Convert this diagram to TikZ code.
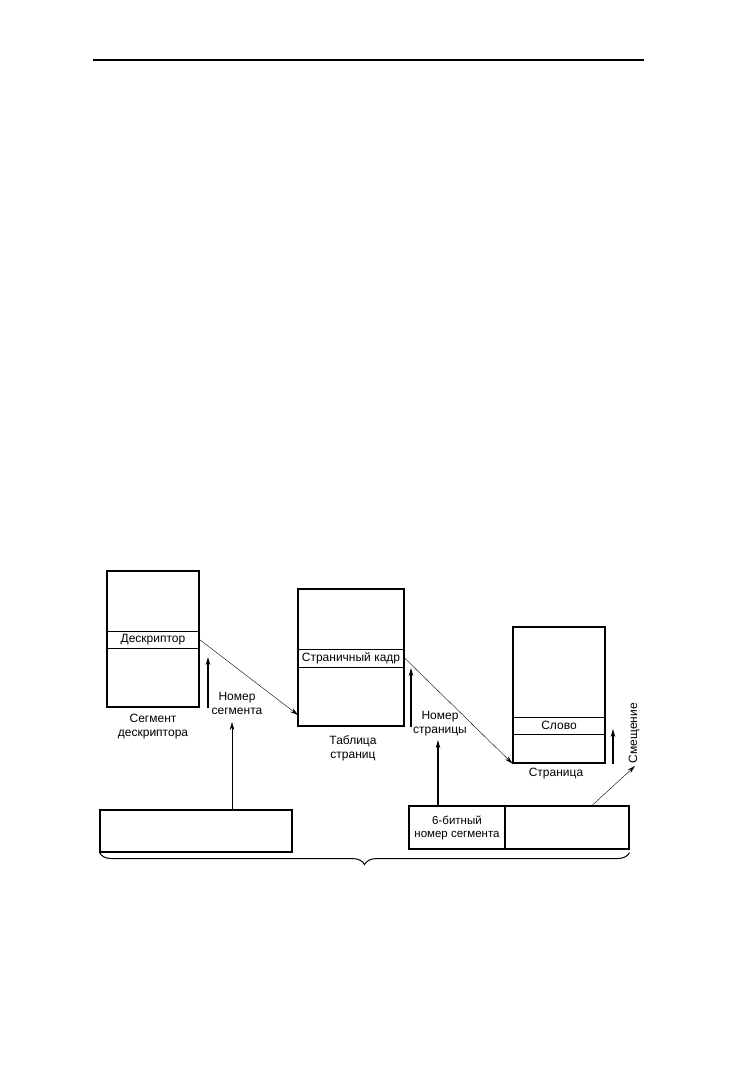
\documentclass[tikz,border=0pt]{standalone}
\usepackage{fontspec}
\setmainfont{Liberation Sans}
\usetikzlibrary{arrows.meta,decorations.pathreplacing}

\begin{document}
\begin{tikzpicture}[x=1pt,y=-1pt,
  box/.style={draw,line width=1.1pt,inner sep=0pt},
  row/.style={draw,line width=1pt,inner sep=0pt,font=\fontsize{12}{14}\selectfont},
  lbl/.style={align=center,inner sep=0pt,font=\fontsize{12}{14}\selectfont},
  tip/.style={-{Stealth[length=8pt,width=4.5pt]}}]
\useasboundingbox (0,0) rectangle (752,1065);
\draw[line width=1.4pt] (93,60) -- (644,60);

% tables
\node[box,minimum width=92pt,minimum height=136pt] (segtab) at (153,639) {};
\node[row,minimum width=92pt,minimum height=17pt] (desc) at (153,639.5) {Дескриптор};
\node[box,minimum width=106pt,minimum height=137pt] (pagetab) at (351,657.5) {};
\node[row,minimum width=106pt,minimum height=18pt] (frame) at (351,658) {Страничный кадр};
\node[box,minimum width=92pt,minimum height=136pt] (page) at (559,695) {};
\node[row,minimum width=92pt,minimum height=17pt] (word) at (559,725.5) {Слово};

\node[lbl] (segname) at (153,727) {Сегмент\\дескриптора};
\node[lbl] (ptname) at (353,748.5) {Таблица\\страниц};
\node[lbl] (pgname) at (556,774) {Страница};

% address
\node[box,minimum width=192pt,minimum height=42pt] (segaddr) at (196,831) {};
\node[box,minimum width=96pt,minimum height=43pt,align=center,
  font=\fontsize{11.5}{13}\selectfont] (segnum) at (457,827.5) {6-битный\\номер сегмента};
\node[box,minimum width=124pt,minimum height=43pt] (offset) at (567,827.5) {};
\draw[decorate,decoration={brace,mirror,amplitude=12pt},line width=1pt]
  (segaddr.south west) -- (offset.south east |- segaddr.south);

% connectors
\coordinate (ptin) at (298,715);
\coordinate (snum) at (208,657);
\coordinate (segtip) at (232,722);
\coordinate (pnum) at (411,668);
\coordinate (pgtip) at (438,740);
\coordinate (offs) at (613,729);
\coordinate (offtip) at (635,766);
\draw[tip] (desc.east) -- (ptin);
\draw[tip] (frame.east) -- (page.south west);
\draw[tip,line width=1.2pt] (segtab.south -| snum) -- (snum);
\draw[tip] (segaddr.north -| segtip) -- (segtip);
\draw[tip,line width=1.2pt] (pagetab.south -| pnum) -- (pnum);
\draw[tip,line width=2.4pt] (segnum.north -| pgtip) -- (pgtip);
\draw[tip,line width=1.2pt] (page.south -| offs) -- (offs);
\draw[tip] (offset.north -| 592,0) -- (offtip);

\node[lbl] (segnumlbl) at (237,703) {Номер\\сегмента};
\node[lbl] (pnumlbl) at (440,724) {Номер\\страницы};
\node[lbl,rotate=90] (offlbl) at (634,733) {Смещение};
\end{tikzpicture}
\end{document}
